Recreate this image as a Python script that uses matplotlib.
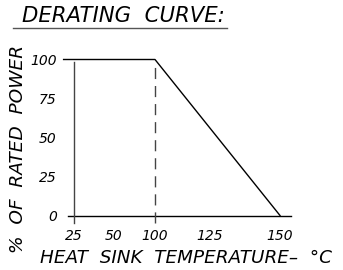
import numpy as np
import matplotlib
matplotlib.use('Agg')
import matplotlib.pyplot as plt
from matplotlib.lines import Line2D

# derating curve data
curve_temp = [18.5, 100, 150]
curve_power = [100, 100, 0]
knee_temp = 100
x_ticks = [25, 50, 100, 125, 150]
x_ticklabels = ['25', '50', '100', '125', '150']
y_ticks = [0, 25, 50, 75, 100]
y_ticklabels = ['0', '25', '50', '75', '100']

# the drawing is not to scale: tick values sit at these pixel columns
knot_t = np.array([25, 50, 100, 125, 150], dtype=float)
knot_p = np.array([74, 114, 155, 210, 280], dtype=float)


def fwd(t):
    t = np.asarray(t, dtype=float)
    p = np.interp(t, knot_t, knot_p)
    lo = t < knot_t[0]
    hi = t > knot_t[-1]
    s0 = (knot_p[1] - knot_p[0]) / (knot_t[1] - knot_t[0])
    s1 = (knot_p[-1] - knot_p[-2]) / (knot_t[-1] - knot_t[-2])
    p = np.where(lo, knot_p[0] + (t - knot_t[0]) * s0, p)
    p = np.where(hi, knot_p[-1] + (t - knot_t[-1]) * s1, p)
    return p


def inv(p):
    p = np.asarray(p, dtype=float)
    t = np.interp(p, knot_p, knot_t)
    lo = p < knot_p[0]
    hi = p > knot_p[-1]
    s0 = (knot_t[1] - knot_t[0]) / (knot_p[1] - knot_p[0])
    s1 = (knot_t[-1] - knot_t[-2]) / (knot_p[-1] - knot_p[-2])
    t = np.where(lo, knot_t[0] + (p - knot_p[0]) * s0, t)
    t = np.where(hi, knot_t[-1] + (p - knot_p[-1]) * s1, t)
    return t


W, H = 343, 270
fig = plt.figure(figsize=(W / 100, H / 100), dpi=100)
ax = fig.add_axes([68 / W, (H - 215.5) / H, (291 - 68) / W, 156 / H])
ax.set_xscale('function', functions=(fwd, inv))
ax.set_xlim(float(inv(68)), float(inv(291)))
ax.set_ylim(0, 100)
for s in ax.spines.values():
    s.set_visible(False)

font = dict(family='DejaVu Sans', style='oblique', color='black')

# axes lines
ax.axhline(0, color='black', lw=1, clip_on=False)
ax.plot([25, 25], [-5, 98.5], color='#444444', lw=1, clip_on=False)
ax.plot([knee_temp, knee_temp], [-5, 98.5], color='#444444', lw=1,
        ls=(0, (8, 5)), clip_on=False)
ax.plot(curve_temp, curve_power, color='black', lw=1, clip_on=False)

ax.set_xticks(x_ticks)
ax.set_xticklabels(x_ticklabels, fontsize=10, **font)
ax.set_yticks(y_ticks)
ax.set_yticklabels(y_ticklabels, fontsize=10, **font)
ax.tick_params(axis='x', length=0, pad=9.5)
ax.tick_params(axis='y', length=0, pad=8)

ax.set_xlabel('HEAT  SINK  TEMPERATURE–  °C', fontsize=13.2, **font)
ax.xaxis.set_label_coords((186 - 68) / 223, (215.5 - 249) / 156)
ax.set_ylabel('%  OF  RATED  POWER', fontsize=13.3, **font)
ax.yaxis.set_label_coords((27 - 68) / 223, (215.5 - 149) / 156)

fig.text(123 / W, 1 - 16.5 / H, 'DERATING  CURVE:', fontsize=15.3, ha='center',
         va='center', **font)
fig.add_artist(Line2D([13 / W, 227 / W], [1 - 28 / H, 1 - 28 / H],
                      color='#555555', lw=1))

fig.savefig('out.png', dpi=100)
